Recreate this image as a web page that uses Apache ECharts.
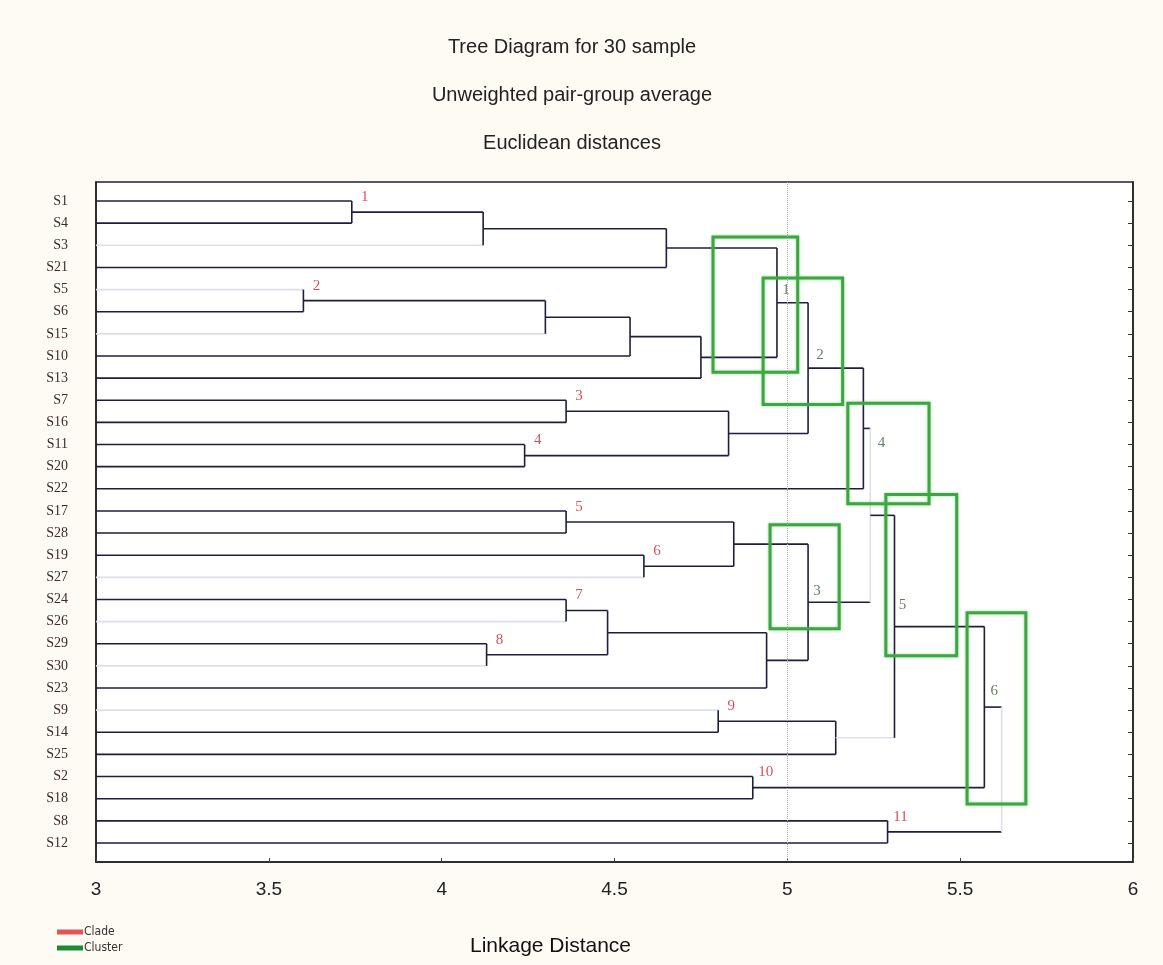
<!DOCTYPE html>
<html>
<head>
<meta charset="utf-8">
<script src="https://cdn.jsdelivr.net/npm/echarts@6/dist/echarts.min.js"></script>
<style>
  html, body { margin: 0; padding: 0; background: #fdfbf4; }
  #chart { width: 1163px; height: 965px; }
</style>
</head>
<body>
<div id="chart"></div>
<script>
// leaves, top to bottom
const leaves = ['S1','S4','S3','S21','S5','S6','S15','S10','S13','S7','S16','S11','S20','S22','S17',
  'S28','S19','S27','S24','S26','S29','S30','S23','S9','S14','S25','S2','S18','S8','S12'];

// merges: [node, childA, childB, linkage distance]
const merges = [
  ['n1', 'S1', 'S4', 3.74],
  ['a2', 'n1', 'S3', 4.12],
  ['a3', 'a2', 'S21', 4.65],
  ['n2', 'S5', 'S6', 3.60],
  ['b2', 'n2', 'S15', 4.30],
  ['b3', 'b2', 'S10', 4.545],
  ['b4', 'b3', 'S13', 4.75],
  ['k1', 'a3', 'b4', 4.97],
  ['n3', 'S7', 'S16', 4.36],
  ['n4', 'S11', 'S20', 4.24],
  ['c34', 'n3', 'n4', 4.83],
  ['k2', 'k1', 'c34', 5.06],
  ['k4', 'k2', 'S22', 5.22],
  ['n5', 'S17', 'S28', 4.36],
  ['n6', 'S19', 'S27', 4.585],
  ['c56', 'n5', 'n6', 4.845],
  ['n7', 'S24', 'S26', 4.36],
  ['n8', 'S29', 'S30', 4.13],
  ['c78', 'n7', 'n8', 4.48],
  ['c78b', 'c78', 'S23', 4.94],
  ['k3', 'c56', 'c78b', 5.06],
  ['k43', 'k4', 'k3', 5.24],
  ['n9', 'S9', 'S14', 4.80],
  ['c9b', 'n9', 'S25', 5.14],
  ['k5', 'k43', 'c9b', 5.31],
  ['n10', 'S2', 'S18', 4.90],
  ['k6', 'k5', 'n10', 5.57],
  ['n11', 'S8', 'S12', 5.29],
  ['root', 'k6', 'n11', 5.62]
];

// red clade numbers and the node they mark
const cladeNames = ['1','2','3','4','5','6','7','8','9','10','11'];
const cladeNodes = ['n1','n2','n3','n4','n5','n6','n7','n8','n9','n10','n11'];

// green clusters: name, node, box [x0, x1, row0, row1]
const clusterNames = ['1','2','4','3','5','6'];
const clusterNodes = ['k1','k2','k4','k3','k5','k6'];
const clusterBoxes = [
  [4.785, 5.03, 1.63, 7.74],
  [4.93, 5.16, 3.48, 9.19],
  [5.175, 5.41, 9.14, 13.67],
  [4.95, 5.15, 14.62, 19.32],
  [5.285, 5.49, 13.26, 20.54],
  [5.52, 5.69, 18.6, 27.24]
];

const xTicks = [3, 3.5, 4, 4.5, 5, 5.5, 6];

// lines that came out washed-out in the original print
const faintLeaves = ['S3','S5','S15','S27','S26','S30','S9'];
const faintNodes = ['k43','root'];
const clusterLabelOffsets = [[9,-13],[12,-13],[18,15],[9,-11],[8,-22],[10,-16]];

// ---- build dendrogram segments
const pos = {};
leaves.forEach(function (n, i) { pos[n] = { h: 3, y: i, top: i }; });
const segs = [];
merges.forEach(function (m) {
  const A = pos[m[1]], B = pos[m[2]], h = m[3];
  segs.push([A.h, A.y, h, A.y, faintLeaves.indexOf(m[1]) >= 0 || m[1] == 'c9b' ? 1 : 0]);
  segs.push([B.h, B.y, h, B.y, faintLeaves.indexOf(m[2]) >= 0 || m[2] == 'c9b' ? 1 : 0]);
  segs.push([h, A.y, h, B.y, faintNodes.indexOf(m[0]) >= 0 ? 1 : 0]);
  pos[m[0]] = { h: h, y: (A.y + B.y) / 2, top: Math.min(A.y, B.y) };
});

const cladeData = cladeNames.map(function (n, i) {
  const p = pos[cladeNodes[i]];
  return { value: [p.h, p.top, n], label: { formatter: n } };
});
const clusterLabelData = clusterNames.map(function (n, i) {
  const p = pos[clusterNodes[i]];
  return { value: [p.h, p.y], label: { formatter: n, offset: clusterLabelOffsets[i] } };
});

const rows = leaves.map(function (_, i) { return i; });

const chart = echarts.init(document.getElementById('chart'));
const option = {
  backgroundColor: '#fdfbf4',
  animation: false,
  title: {
    text: 'Tree Diagram for 30 sample\nUnweighted pair-group average\nEuclidean distances',
    left: 567,
    textAlign: 'center',
    top: 18,
    textStyle: {
      fontFamily: 'Liberation Sans',
      fontSize: 20,
      fontWeight: 'normal',
      color: '#222',
      lineHeight: 48
    }
  },
  legend: {
    orient: 'vertical',
    left: 52,
    top: 921,
    icon: 'rect',
    itemWidth: 26,
    itemHeight: 5,
    itemGap: 4,
    textStyle: { fontSize: 12, fontFamily: 'DejaVu Sans Condensed', color: '#333', padding: [0, 0, 0, -4] },
    data: ['Clade', 'Cluster']
  },
  grid: {
    left: 96,
    right: 30,
    top: 182,
    bottom: 103,
    show: true,
    backgroundColor: '#ffffff',
    borderColor: '#222',
    borderWidth: 1.5
  },
  xAxis: {
    type: 'value',
    min: 3,
    max: 6,
    interval: 0.5,
    axisLine: { onZero: false, lineStyle: { color: '#222', width: 1.5 } },
    axisTick: { inside: true, length: 4, lineStyle: { color: '#444' } },
    splitLine: { show: false },
    axisLabel: {
      margin: 18,
      fontSize: 19,
      fontFamily: 'Liberation Sans',
      color: '#222',
      formatter: function (v) { return xTicks.indexOf(v) >= 0 ? String(v) : ''; }
    },
    name: 'Linkage Distance',
    nameLocation: 'middle',
    nameGap: 74,
    nameTextStyle: {
      fontSize: 21,
      fontFamily: 'Liberation Sans',
      color: '#111',
      padding: [0, 128, 0, 0]
    }
  },
  yAxis: [{
    type: 'value',
    inverse: true,
    min: -0.86,
    max: 29.86,
    axisLine: { show: true, onZero: false, lineStyle: { color: '#222', width: 1.5 } },
    axisTick: { show: false },
    splitLine: { show: false },
    axisLabel: {
      customValues: rows,
      margin: 28,
      align: 'right',
      fontFamily: 'Liberation Serif',
      fontSize: 14,
      color: '#3e2a2a',
      formatter: function (v) { return leaves[Math.round(v)]; }
    }
  }, {
    type: 'value',
    inverse: true,
    min: -0.86,
    max: 29.86,
    position: 'right',
    axisLine: { show: true, onZero: false, lineStyle: { color: '#222', width: 1.5 } },
    axisTick: { show: true, inside: true, length: 5, customValues: rows, lineStyle: { color: '#333' } },
    axisLabel: { show: false },
    splitLine: { show: false }
  }],
  series: [{
    type: 'custom',
    name: 'tree',
    data: segs,
    encode: { x: [0, 2], y: [1, 3] },
    renderItem: function (params, api) {
      const p1 = api.coord([api.value(0), api.value(1)]);
      const p2 = api.coord([api.value(2), api.value(3)]);
      return {
        type: 'line',
        shape: { x1: p1[0], y1: p1[1], x2: p2[0], y2: p2[1] },
        style: { stroke: api.value(4) ? '#dde0ea' : '#1e1e3c', lineWidth: 1.6 }
      };
    },
    markLine: {
      silent: true,
      symbol: 'none',
      label: { show: false },
      lineStyle: { type: 'dotted', color: '#aaa', width: 1 },
      data: [{ xAxis: 5 }]
    },
    z: 2
  }, {
    type: 'custom',
    name: 'Cluster',
    itemStyle: { color: '#1f8a35' },
    data: clusterBoxes,
    encode: { x: [0, 1], y: [2, 3] },
    renderItem: function (params, api) {
      const a = api.coord([api.value(0), api.value(2)]);
      const b = api.coord([api.value(1), api.value(3)]);
      return {
        type: 'rect',
        shape: { x: a[0], y: a[1], width: b[0] - a[0], height: b[1] - a[1] },
        style: { fill: 'none', stroke: '#3fa544', lineWidth: 3, shadowBlur: 3, shadowColor: 'rgba(80,200,80,0.6)' }
      };
    },
    z: 3
  }, {
    type: 'scatter',
    name: 'Clade',
    itemStyle: { color: '#dd2a30' },
    symbolSize: 0,
    data: cladeData,
    label: {
      show: true,
      position: 'inside',
      offset: [13, -4],
      fontFamily: 'Liberation Serif',
      fontSize: 15,
      color: '#c8262a'
    },
    z: 4
  }, {
    type: 'scatter',
    name: 'clusterLabels',
    symbolSize: 0,
    data: clusterLabelData,
    label: {
      show: true,
      position: 'inside',
      fontFamily: 'Liberation Serif',
      fontSize: 15,
      color: '#3d5e3d'
    },
    z: 4
  }]
};
chart.setOption(option);
window.onresize = function () { chart.resize(); };
</script>
</body>
</html>
